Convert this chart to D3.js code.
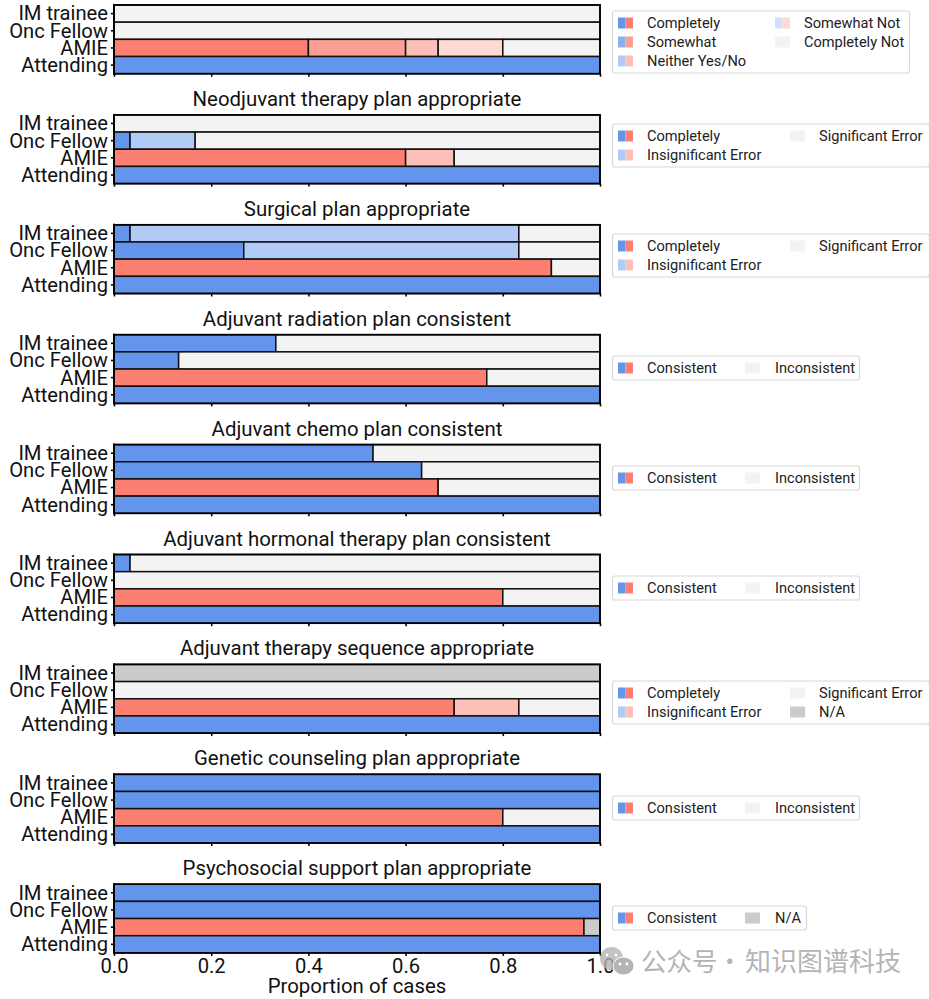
<!DOCTYPE html>
<html><head><meta charset="utf-8">
<script src="https://cdn.jsdelivr.net/npm/d3@7/dist/d3.min.js"></script>
<style>html,body{margin:0;padding:0;background:#fff}svg{display:block}text{font-family:Roboto,sans-serif}</style>
</head><body><div id="c"></div>
<script>
const rows = ["IM trainee","Onc Fellow","AMIE","Attending"];
const titles = ["", "Neodjuvant therapy plan appropriate","Surgical plan appropriate","Adjuvant radiation plan consistent","Adjuvant chemo plan consistent","Adjuvant hormonal therapy plan consistent","Adjuvant therapy sequence appropriate","Genetic counseling plan appropriate","Psychosocial support plan appropriate"];
const xTicks = [0,0.2,0.4,0.6,0.8,1.0];

// Each row: [level, cumulative end] pairs, from left to right
const p1 = [[["not",1]],[["not",1]],[["full",.4],["a75",.6],["a50",.667],["a30",.8],["not",1]],[["full",1]]];
const p2 = [[["not",1]],[["full",.033],["a50",.167],["not",1]],[["full",.6],["a50",.7],["not",1]],[["full",1]]];
const p3 = [[["full",.033],["a50",.833],["not",1]],[["full",.267],["a50",.833],["not",1]],[["full",.9],["not",1]],[["full",1]]];
const p4 = [[["full",.333],["not",1]],[["full",.133],["not",1]],[["full",.767],["not",1]],[["full",1]]];
const p5 = [[["full",.533],["not",1]],[["full",.633],["not",1]],[["full",.667],["not",1]],[["full",1]]];
const p6 = [[["full",.033],["not",1]],[["not",1]],[["full",.8],["not",1]],[["full",1]]];
const p7 = [[["na",1]],[["not",1]],[["full",.7],["a50",.833],["not",1]],[["full",1]]];
const p8 = [[["full",1]],[["full",1]],[["full",.8],["not",1]],[["full",1]]];
const p9 = [[["full",1]],[["full",1]],[["full",.967],["na",1]],[["full",1]]];
const panels = [p1,p2,p3,p4,p5,p6,p7,p8,p9];

const legend5 = [["full","Completely"],["a75","Somewhat"],["a50","Neither Yes/No"],["a30","Somewhat Not"],["not","Completely Not"]];
const legendErr = [["full","Completely"],["a50","Insignificant Error"],["not","Significant Error"]];
const legendErrNA = [["full","Completely"],["a50","Insignificant Error"],["not","Significant Error"],["na","N/A"]];
const legendCons = [["full","Consistent"],["not","Inconsistent"]];
const legendNA = [["full","Consistent"],["na","N/A"]];
const legends = [legend5,legendErr,legendErr,legendCons,legendCons,legendCons,legendErrNA,legendCons,legendNA];

const W=929,H=999;
const svg=d3.select("#c").append("svg").attr("width",W).attr("height",H);
const x=d3.scaleLinear().domain([0,1]).range([114,600]);
const tops=d3.range(9).map(i=>5+i*109.9);
const PH=68.7;
const BLUE="#6495ed",RED="#fb8072";
const alpha={full:1,a75:.75,a50:.5,a30:.3};
const legendTop=[11,124,234,356,466,576,681,796,906];
function mix(c,a){const k=d3.rgb(c);const f=v=>Math.round(255+(v-255)*a);return d3.rgb(f(k.r),f(k.g),f(k.b)).formatHex();}
function col(level,isAmie){
  if(level==="not")return "#f3f3f3";
  if(level==="na")return "#cbcbcb";
  return mix(isAmie?RED:BLUE,alpha[level]);
}
panels.forEach((p,i)=>{
  const g=svg.append("g").attr("transform",`translate(0,${tops[i]})`);
  const y=d3.scaleBand().domain(rows).range([0,PH]);
  rows.forEach((r,ri)=>{
    let s=0;
    p[ri].forEach(([lv,end])=>{
      g.append("rect").attr("x",x(s)).attr("y",y(r)).attr("width",x(end)-x(s)).attr("height",y.bandwidth())
       .attr("fill",col(lv,r==="AMIE")).attr("stroke","#111").attr("stroke-width",1.5);
      s=end;
    });
  });
  g.append("rect").attr("x",114).attr("y",0).attr("width",486).attr("height",PH).attr("fill","none").attr("stroke","#000").attr("stroke-width",1.7);
  g.append("line").attr("x1",114).attr("x2",114).attr("y1",-1).attr("y2",PH+1).attr("stroke","#000").attr("stroke-width",2);
  const ya=d3.axisLeft(y).tickSize(3).tickPadding(3);
  const yg=g.append("g").attr("transform","translate(114,0)").call(ya);
  yg.select(".domain").remove();
  yg.selectAll("line").attr("stroke","#000").attr("stroke-width",1.6);
  yg.selectAll("text").attr("font-size",20.2).attr("fill","#111").attr("dy","0.34em");
  const last=i===8;
  const xa=d3.axisBottom(x).tickValues(xTicks).tickSize(3).tickPadding(3).tickFormat(last?d3.format(".1f"):"");
  const xg=g.append("g").attr("transform",`translate(0,${PH})`).call(xa);
  xg.select(".domain").remove();
  xg.selectAll("line").attr("stroke","#000").attr("stroke-width",1.6);
  xg.selectAll("text").attr("font-size",20.2).attr("fill","#111");
  if(titles[i]) g.append("text").attr("x",357).attr("y",-9).attr("text-anchor","middle").attr("font-size",20.4).attr("fill","#111").text(titles[i]);

  // legend
  const items=legends[i];
  const nr=Math.ceil(items.length/2);
  const cfg=items.length===5?{x2:775,w:297}:items.length>=3?{x2:790,w:317}:(items[1][0]==="na"?{x2:745,w:194}:{x2:745,w:247});
  const h=nr*19+5;
  const lg=svg.append("g").attr("transform",`translate(0,${legendTop[i]})`);
  lg.append("rect").attr("x",612.5).attr("y",0).attr("width",cfg.w).attr("height",h).attr("rx",2.5).attr("fill","#fff").attr("stroke","#d8d8d8").attr("stroke-width",1.2);
  items.forEach(([lv,label],k)=>{
    const c=k<nr?0:1, ro=c===0?k:k-nr;
    const sx=c===0?618:cfg.x2, tx=sx+(c===0?29:(items.length===2?30:29));
    const yy=12+ro*19;
    const a=lv==="not"||lv==="na";
    lg.append("rect").attr("x",sx).attr("y",yy-5.5).attr("width",a?15:7.5).attr("height",11).attr("fill",col(lv,false));
    if(!a) lg.append("rect").attr("x",sx+7.5).attr("y",yy-5.5).attr("width",7.5).attr("height",11).attr("fill",col(lv,true));
    lg.append("text").attr("x",tx).attr("y",yy).attr("dy","0.35em").attr("font-size",14.6).attr("fill","#222").text(label);
  });
});
svg.append("text").attr("x",357).attr("y",993).attr("text-anchor","middle").attr("font-size",20.4).attr("fill","#111").text("Proportion of cases");

// watermark
const wm=svg.append("g").attr("fill","#b4b4b4");
wm.append("ellipse").attr("cx",611.5).attr("cy",958.5).attr("rx",11.5).attr("ry",11.5).attr("fill-opacity",.8);
wm.append("ellipse").attr("cx",623.5).attr("cy",966).attr("rx",10.5).attr("ry",9).attr("stroke","#fff").attr("stroke-width",1);
[[607,955],[616,955],[620,964],[627,964]].forEach(([a,b])=>wm.append("circle").attr("cx",a).attr("cy",b).attr("r",1.4).attr("fill","#fff"));
const wt=wm.append("text").attr("y",971).attr("font-size",25.5).attr("style","font-family:'Noto Sans CJK SC'");
wt.append("tspan").attr("x",641).text("公众号");
wt.append("tspan").attr("x",717).text("·");
wt.append("tspan").attr("x",745).attr("font-size",26).text("知识图谱科技");
</script></body></html>
